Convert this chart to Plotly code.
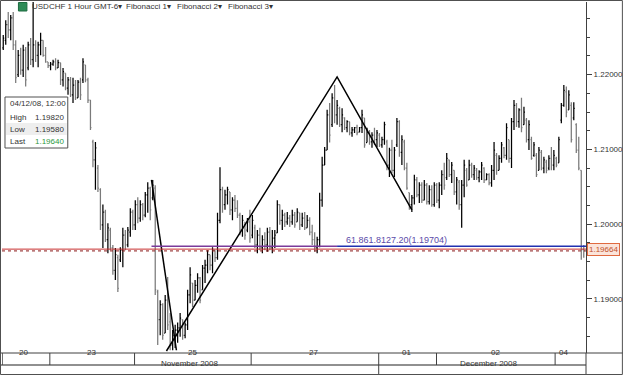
import plotly.graph_objects as go

# ---------------- data (USDCHF 1 hour bars) ----------------
open_ = [
    1.2236, 1.2246, 1.2267, 1.2260, 1.2276, 1.2240, 1.2200, 1.2226, 1.2206, 1.2233,
    1.2209, 1.2240, 1.2220, 1.2240, 1.2226, 1.2240, 1.2246, 1.2226, 1.2217, 1.2212,
    1.2214, 1.2217, 1.2209, 1.2216, 1.2193, 1.2202, 1.2182, 1.2193, 1.2173, 1.2186,
    1.2169, 1.2190, 1.2193, 1.2213, 1.2193, 1.2166, 1.2110, 1.2086, 1.2075, 1.2046,
    1.1999, 1.2016, 1.1979, 1.1992, 1.1968, 1.1938, 1.1955, 1.1952, 1.1965, 1.1985,
    1.1972, 1.1989, 1.2016, 1.1999, 1.2026, 1.2008, 1.2026, 1.2012, 1.2039, 1.2048,
    1.2035, 1.2048, 1.1909, 1.1872, 1.1892, 1.1854, 1.1898, 1.1869, 1.1838, 1.1851,
    1.1858, 1.1861, 1.1872, 1.1851, 1.1865, 1.1905, 1.1921, 1.1898, 1.1918, 1.1928,
    1.1912, 1.1941, 1.1945, 1.1959, 1.1945, 1.1965, 1.1955, 1.2005, 1.2046, 1.2026,
    1.2039, 1.2043, 1.2019, 1.2032, 1.2021, 1.2012, 1.1992, 1.1999, 1.1992, 1.2003,
    1.1985, 1.1995, 1.1972, 1.1985, 1.1968, 1.1979, 1.1972, 1.1989, 1.1968, 1.1981,
    1.1988, 1.2026, 1.2005, 1.2012, 1.2003, 1.2008, 1.2003, 1.2012, 1.2003, 1.2015,
    1.1999, 1.2008, 1.1995, 1.2005, 1.1989, 1.1979, 1.1968, 1.1979, 1.2032, 1.2079,
    1.2099, 1.2146, 1.2133, 1.2169, 1.2146, 1.2155, 1.2133, 1.2142, 1.2129, 1.2137,
    1.2122, 1.2126, 1.2129, 1.2123, 1.2129, 1.2142, 1.2109, 1.2123, 1.2110, 1.2119,
    1.2113, 1.2119, 1.2106, 1.2113, 1.2110, 1.2079, 1.2099, 1.2072, 1.2106, 1.2137,
    1.2096, 1.2110, 1.2075, 1.2042, 1.2026, 1.2035, 1.2059, 1.2039, 1.2052, 1.2032,
    1.2052, 1.2030, 1.2046, 1.2026, 1.2052, 1.2032, 1.2052, 1.2066, 1.2062, 1.2086,
    1.2066, 1.2072, 1.2043, 1.2056, 1.2026, 1.2052, 1.2072, 1.2059, 1.2079, 1.2066,
    1.2072, 1.2062, 1.2070, 1.2075, 1.2059, 1.2066, 1.2055, 1.2072, 1.2092, 1.2072,
    1.2088, 1.2102, 1.2092, 1.2113, 1.2088, 1.2137, 1.2159, 1.2137, 1.2153, 1.2133,
    1.2139, 1.2113, 1.2113, 1.2092, 1.2092, 1.2072, 1.2096, 1.2075, 1.2083, 1.2075,
    1.2088, 1.2079, 1.2088, 1.2082, 1.2139, 1.2159, 1.2177, 1.2153, 1.2159, 1.2142,
    1.2133, 1.2099, 1.2072, 1.1966,
]
high = [
    1.2253, 1.2273, 1.2284, 1.2280, 1.2284, 1.2246, 1.2233, 1.2236, 1.2240, 1.2237,
    1.2244, 1.2249, 1.2300, 1.2246, 1.2244, 1.2256, 1.2246, 1.2237, 1.2217, 1.2217,
    1.2220, 1.2222, 1.2220, 1.2216, 1.2209, 1.2202, 1.2197, 1.2197, 1.2196, 1.2193,
    1.2193, 1.2196, 1.2222, 1.2213, 1.2196, 1.2166, 1.2113, 1.2110, 1.2079, 1.2048,
    1.2026, 1.2019, 1.2001, 1.1995, 1.1972, 1.1968, 1.1959, 1.1969, 1.1995, 1.1992,
    1.1996, 1.2021, 1.2019, 1.2032, 1.2036, 1.2032, 1.2028, 1.2043, 1.2056, 1.2050,
    1.2059, 1.2052, 1.1912, 1.1898, 1.1894, 1.1905, 1.1929, 1.1881, 1.1858, 1.1865,
    1.1868, 1.1881, 1.1872, 1.1868, 1.1912, 1.1942, 1.1921, 1.1925, 1.1934, 1.1929,
    1.1945, 1.1952, 1.1965, 1.1959, 1.1969, 1.1965, 1.2015, 1.2076, 1.2050, 1.2046,
    1.2050, 1.2043, 1.2036, 1.2039, 1.2032, 1.2015, 1.2012, 1.2003, 1.2008, 1.2019,
    1.2012, 1.1999, 1.1992, 1.1995, 1.1985, 1.1989, 1.1995, 1.1996, 1.1992, 1.1992,
    1.2032, 1.2026, 1.2019, 1.2015, 1.2016, 1.2012, 1.2019, 1.2016, 1.2021, 1.2015,
    1.2015, 1.2016, 1.2012, 1.2009, 1.1999, 1.1989, 1.1983, 1.2042, 1.2090, 1.2103,
    1.2153, 1.2162, 1.2175, 1.2186, 1.2166, 1.2157, 1.2155, 1.2143, 1.2139, 1.2137,
    1.2130, 1.2130, 1.2133, 1.2130, 1.2153, 1.2142, 1.2129, 1.2126, 1.2123, 1.2129,
    1.2126, 1.2122, 1.2117, 1.2137, 1.2113, 1.2102, 1.2113, 1.2103, 1.2142, 1.2139,
    1.2119, 1.2113, 1.2082, 1.2042, 1.2039, 1.2066, 1.2063, 1.2056, 1.2056, 1.2059,
    1.2055, 1.2052, 1.2052, 1.2056, 1.2055, 1.2056, 1.2072, 1.2082, 1.2095, 1.2086,
    1.2083, 1.2072, 1.2063, 1.2059, 1.2059, 1.2086, 1.2075, 1.2086, 1.2082, 1.2079,
    1.2075, 1.2072, 1.2083, 1.2076, 1.2068, 1.2068, 1.2079, 1.2110, 1.2095, 1.2092,
    1.2110, 1.2103, 1.2135, 1.2113, 1.2142, 1.2166, 1.2162, 1.2155, 1.2169, 1.2157,
    1.2142, 1.2139, 1.2117, 1.2110, 1.2095, 1.2103, 1.2099, 1.2090, 1.2086, 1.2092,
    1.2103, 1.2099, 1.2090, 1.2117, 1.2162, 1.2186, 1.2184, 1.2179, 1.2163, 1.2163,
    1.2135, 1.2117, 1.2072, 1.1972,
]
low = [
    1.2233, 1.2240, 1.2249, 1.2246, 1.2233, 1.2189, 1.2197, 1.2200, 1.2197, 1.2184,
    1.2206, 1.2213, 1.2210, 1.2217, 1.2210, 1.2226, 1.2224, 1.2216, 1.2209, 1.2206,
    1.2212, 1.2206, 1.2209, 1.2186, 1.2184, 1.2179, 1.2173, 1.2170, 1.2162, 1.2166,
    1.2169, 1.2166, 1.2189, 1.2190, 1.2162, 1.2126, 1.2076, 1.2046, 1.2043, 1.1992,
    1.1968, 1.1976, 1.1961, 1.1965, 1.1932, 1.1925, 1.1909, 1.1949, 1.1942, 1.1965,
    1.1969, 1.1983, 1.1992, 1.1992, 1.2001, 1.2003, 1.2005, 1.2009, 1.2015, 1.2005,
    1.2032, 1.1905, 1.1838, 1.1851, 1.1845, 1.1854, 1.1858, 1.1831, 1.1831, 1.1834,
    1.1841, 1.1849, 1.1845, 1.1847, 1.1858, 1.1894, 1.1889, 1.1898, 1.1908, 1.1894,
    1.1912, 1.1921, 1.1934, 1.1938, 1.1934, 1.1949, 1.1952, 1.2001, 1.2015, 1.2019,
    1.2026, 1.2012, 1.2005, 1.2016, 1.2008, 1.1985, 1.1983, 1.1979, 1.1989, 1.1975,
    1.1981, 1.1968, 1.1961, 1.1965, 1.1961, 1.1965, 1.1963, 1.1965, 1.1961, 1.1968,
    1.1988, 1.1999, 1.1992, 1.1996, 1.1999, 1.1996, 1.1999, 1.1995, 1.2003, 1.1992,
    1.1996, 1.1992, 1.1995, 1.1985, 1.1972, 1.1963, 1.1961, 1.1969, 1.2023, 1.2079,
    1.2099, 1.2109, 1.2130, 1.2135, 1.2133, 1.2130, 1.2123, 1.2126, 1.2123, 1.2119,
    1.2117, 1.2122, 1.2119, 1.2123, 1.2122, 1.2102, 1.2109, 1.2106, 1.2102, 1.2106,
    1.2103, 1.2103, 1.2102, 1.2106, 1.2072, 1.2063, 1.2068, 1.2063, 1.2103, 1.2090,
    1.2079, 1.2072, 1.2046, 1.2019, 1.2016, 1.2026, 1.2036, 1.2028, 1.2028, 1.2032,
    1.2026, 1.2026, 1.2023, 1.2023, 1.2028, 1.2021, 1.2039, 1.2046, 1.2059, 1.2063,
    1.2055, 1.2039, 1.2026, 1.2019, 1.1995, 1.2036, 1.2050, 1.2059, 1.2062, 1.2059,
    1.2059, 1.2056, 1.2059, 1.2055, 1.2059, 1.2052, 1.2050, 1.2059, 1.2066, 1.2072,
    1.2082, 1.2088, 1.2086, 1.2082, 1.2075, 1.2126, 1.2130, 1.2129, 1.2123, 1.2133,
    1.2109, 1.2099, 1.2086, 1.2090, 1.2063, 1.2072, 1.2072, 1.2068, 1.2068, 1.2072,
    1.2072, 1.2072, 1.2076, 1.2082, 1.2135, 1.2157, 1.2143, 1.2153, 1.2109, 1.2139,
    1.2095, 1.2072, 1.1952, 1.1955,
]
close = [
    1.2249, 1.2267, 1.2260, 1.2276, 1.2240, 1.2196, 1.2226, 1.2206, 1.2233, 1.2193,
    1.2240, 1.2220, 1.2240, 1.2226, 1.2240, 1.2246, 1.2226, 1.2217, 1.2212, 1.2214,
    1.2217, 1.2209, 1.2216, 1.2193, 1.2204, 1.2182, 1.2193, 1.2173, 1.2186, 1.2169,
    1.2190, 1.2173, 1.2217, 1.2193, 1.2166, 1.2129, 1.2086, 1.2102, 1.2048, 1.1999,
    1.2016, 1.1979, 1.1995, 1.1968, 1.1938, 1.1959, 1.1914, 1.1965, 1.1985, 1.1972,
    1.1992, 1.2016, 1.1999, 1.2026, 1.2008, 1.2026, 1.2012, 1.2039, 1.2048, 1.2019,
    1.2052, 1.1912, 1.1872, 1.1892, 1.1851, 1.1898, 1.1865, 1.1838, 1.1851, 1.1858,
    1.1861, 1.1874, 1.1851, 1.1865, 1.1905, 1.1932, 1.1898, 1.1918, 1.1928, 1.1898,
    1.1941, 1.1945, 1.1959, 1.1945, 1.1965, 1.1955, 1.2005, 1.2046, 1.2026, 1.2039,
    1.2046, 1.2019, 1.2032, 1.2021, 1.2012, 1.1992, 1.2005, 1.1985, 1.2003, 1.1981,
    1.2005, 1.1972, 1.1985, 1.1968, 1.1979, 1.1972, 1.1989, 1.1968, 1.1981, 1.1985,
    1.2026, 1.2005, 1.2012, 1.2003, 1.2008, 1.2003, 1.2012, 1.1999, 1.2016, 1.1999,
    1.2008, 1.1995, 1.2005, 1.1989, 1.1979, 1.1968, 1.1979, 1.2032, 1.2079, 1.2099,
    1.2146, 1.2119, 1.2169, 1.2146, 1.2159, 1.2133, 1.2146, 1.2129, 1.2137, 1.2122,
    1.2126, 1.2129, 1.2122, 1.2129, 1.2146, 1.2106, 1.2123, 1.2110, 1.2119, 1.2113,
    1.2122, 1.2106, 1.2113, 1.2133, 1.2079, 1.2099, 1.2072, 1.2099, 1.2137, 1.2096,
    1.2113, 1.2075, 1.2048, 1.2026, 1.2035, 1.2059, 1.2039, 1.2052, 1.2032, 1.2052,
    1.2030, 1.2046, 1.2026, 1.2052, 1.2032, 1.2052, 1.2066, 1.2052, 1.2088, 1.2066,
    1.2079, 1.2043, 1.2059, 1.2026, 1.2052, 1.2079, 1.2052, 1.2079, 1.2066, 1.2075,
    1.2062, 1.2070, 1.2079, 1.2059, 1.2066, 1.2055, 1.2072, 1.2099, 1.2072, 1.2088,
    1.2106, 1.2092, 1.2129, 1.2088, 1.2137, 1.2159, 1.2137, 1.2153, 1.2129, 1.2150,
    1.2113, 1.2133, 1.2088, 1.2106, 1.2066, 1.2099, 1.2075, 1.2086, 1.2072, 1.2088,
    1.2079, 1.2092, 1.2079, 1.2113, 1.2159, 1.2179, 1.2150, 1.2173, 1.2113, 1.2155,
    1.2099, 1.2075, 1.1965, 1.1964,
]
bar_index = list(range(len(close)))

day_labels = ["20", "23", "25", "27", "01", "02", "04"]
day_label_pos = [8.3, 35.5, 75.9, 124.7, 161.9, 197.5, 224.7]
day_edges = [-0.4, 18.7, 52.7, 99.5, 150.7, 173.9, 221.5]
month_labels = ["November 2008", "December 2008"]
month_label_pos = [74.7, 194.7]
month_edges = [150.7]

fib1_x = [59.5, 69.5]
fib1_y = [1.2059, 1.1831]
fib23_x = [65.5, 134.0, 164.0]
fib23_y = [1.1830, 1.2197, 1.2019]
fib_level = 1.19704
fib_level_x = [59.5, 134.0, 233.9]
fib_text = "61.861.8127.20(1.19704)"
last_price = 1.19664
ask_price = 1.19640
y_range = [1.18273, 1.22973]
x_range = [-0.5, 233.9]

info_date = "04/12/08, 12:00"
info_rows = [("High", "1.19820"), ("Low", "1.19580"), ("Last", "1.19640")]

# ---------------- layout geometry ----------------
W, H = 625, 375
ML, MR, MT, MB = 2, 37, 2, 22
PW, PH = W - ML - MR, H - MT - MB
FONT = "Arial, Liberation Sans, sans-serif"


def xp(px):
    return (px - ML) / PW


def yp(py):
    return (H - MB - py) / PH


fig = go.Figure()
fig.add_trace(go.Ohlc(
    x=bar_index, open=open_, high=high, low=low, close=close,
    increasing_line_color="#000000", decreasing_line_color="#7a7a7a",
    line_width=1.25, tickwidth=0.4, showlegend=False, hoverinfo="skip",
))
fig.add_trace(go.Scatter(x=fib1_x, y=fib1_y, mode="lines",
                         line=dict(color="#000000", width=1.5),
                         showlegend=False, hoverinfo="skip"))
fig.add_trace(go.Scatter(x=fib23_x, y=fib23_y, mode="lines",
                         line=dict(color="#000000", width=1.5),
                         showlegend=False, hoverinfo="skip"))

shapes = []
# price lines
shapes.append(dict(type="line", xref="paper", yref="y", x0=0, x1=1,
                   y0=last_price, y1=last_price, line=dict(color="#c83030", width=1)))
shapes.append(dict(type="line", xref="paper", yref="y", x0=0, x1=1,
                   y0=ask_price, y1=ask_price,
                   line=dict(color="#8b1a1a", width=1, dash="dot")))
shapes.append(dict(type="line", xref="x", yref="y", x0=fib_level_x[0], x1=fib_level_x[1],
                   y0=fib_level, y1=fib_level, line=dict(color="#7a3a9a", width=1.5)))
shapes.append(dict(type="line", xref="x", yref="y", x0=fib_level_x[1], x1=fib_level_x[2],
                   y0=fib_level, y1=fib_level, line=dict(color="#2030b0", width=1.5)))

# bottom date axis (table style)
shapes.append(dict(type="line", xref="paper", yref="paper", x0=xp(0), x1=xp(625),
                   y0=yp(353), y1=yp(353), line=dict(color="#404040", width=1)))
shapes.append(dict(type="line", xref="paper", yref="paper", x0=xp(0), x1=xp(588),
                   y0=yp(365), y1=yp(365), line=dict(color="#909090", width=2)))
for e in day_edges:
    shapes.append(dict(type="line", xref="x", yref="paper", x0=e, x1=e,
                       y0=yp(353), y1=yp(365), line=dict(color="#404040", width=1)))
for e in month_edges:
    shapes.append(dict(type="line", xref="x", yref="paper", x0=e, x1=e,
                       y0=yp(365), y1=yp(375), line=dict(color="#404040", width=1)))
shapes.append(dict(type="line", xref="paper", yref="paper", x0=1, x1=1,
                   y0=yp(353), y1=yp(375), line=dict(color="#404040", width=1)))
# outer frame
shapes.append(dict(type="rect", xref="paper", yref="paper", x0=xp(0.5), x1=xp(624.5),
                   y0=yp(374.5), y1=yp(0.5), line=dict(color="#505050", width=1)))
# title icon
shapes.append(dict(type="rect", xref="paper", yref="paper", x0=xp(18.5), x1=xp(27),
                   y0=yp(11), y1=yp(2.5), fillcolor="#2e8b57",
                   line=dict(color="#1d6b40", width=1)))
# info box
shapes.append(dict(type="rect", xref="paper", yref="paper", x0=xp(5), x1=xp(68),
                   y0=yp(148), y1=yp(97), fillcolor="#ffffff",
                   line=dict(color="#505050", width=1)))
shapes.append(dict(type="rect", xref="paper", yref="paper", x0=xp(6), x1=xp(67),
                   y0=yp(135), y1=yp(123), fillcolor="#eeeeee", line=dict(width=0)))

ann = []
for lab, pos in zip(day_labels, day_label_pos):
    ann.append(dict(x=pos, xref="x", y=yp(359), yref="paper", text=lab,
                    showarrow=False, font=dict(family=FONT, size=8, color="#333333")))
for lab, pos in zip(month_labels, month_label_pos):
    ann.append(dict(x=pos, xref="x", y=yp(369.5), yref="paper", text=lab,
                    showarrow=False, font=dict(family=FONT, size=8, color="#333333")))

title_parts = [("USDCHF 1 Hour GMT-6\u25be", 30), ("Fibonacci 1\u25be", 124),
               ("Fibonacci 2\u25be", 176), ("Fibonacci 3\u25be", 227)]
for t, px in title_parts:
    ann.append(dict(x=xp(px), xref="paper", y=yp(7), yref="paper", text=t,
                    xanchor="left", yanchor="middle", showarrow=False,
                    font=dict(family=FONT, size=8, color="#333333")))

ann.append(dict(x=xp(8), xref="paper", y=yp(104), yref="paper", text=info_date,
                xanchor="left", yanchor="middle", showarrow=False,
                font=dict(family=FONT, size=8, color="#333333")))
for k, (name, val) in enumerate(info_rows):
    py = 117 + 12 * k
    ann.append(dict(x=xp(8), xref="paper", y=yp(py), yref="paper", text=name,
                    xanchor="left", yanchor="middle", showarrow=False,
                    font=dict(family=FONT, size=8, color="#333333")))
    ann.append(dict(x=xp(33), xref="paper", y=yp(py), yref="paper", text=val,
                    xanchor="left", yanchor="middle", showarrow=False,
                    font=dict(family=FONT, size=8,
                              color="#2e9a3e" if name == "Last" else "#333333")))

ann.append(dict(x=158, xref="x", y=fib_level, yref="y", yshift=6, text=fib_text,
                showarrow=False, font=dict(family=FONT, size=9, color="#5a4aa8")))
ann.append(dict(x=1, xref="paper", y=last_price, yref="y", xanchor="left", xshift=1,
                text="%.5f" % last_price, showarrow=False,
                bgcolor="#fbe4da", bordercolor="#e06a40", borderwidth=1, borderpad=1,
                font=dict(family=FONT, size=8, color="#c0502a")))

fig.update_layout(
    width=W, height=H,
    margin=dict(l=ML, r=MR, t=MT, b=MB, pad=0),
    paper_bgcolor="#ffffff", plot_bgcolor="#ffffff",
    showlegend=False,
    shapes=shapes, annotations=ann,
    xaxis=dict(range=x_range, showgrid=False, zeroline=False, showticklabels=False,
               ticks="", showline=False, rangeslider=dict(visible=False), fixedrange=True),
    yaxis=dict(range=y_range, side="right", showgrid=False, zeroline=False,
               tickmode="linear", tick0=1.19, dtick=0.01, tickformat=".5f",
               ticks="outside", ticklen=5, tickcolor="#404040",
               showline=True, linecolor="#404040", linewidth=1,
               minor=dict(dtick=0.0025, tick0=1.19, ticks="outside", ticklen=3,
                          tickcolor="#404040", showgrid=False),
               tickfont=dict(family=FONT, size=8, color="#333333"), fixedrange=True),
)

fig.write_html("out.html")
